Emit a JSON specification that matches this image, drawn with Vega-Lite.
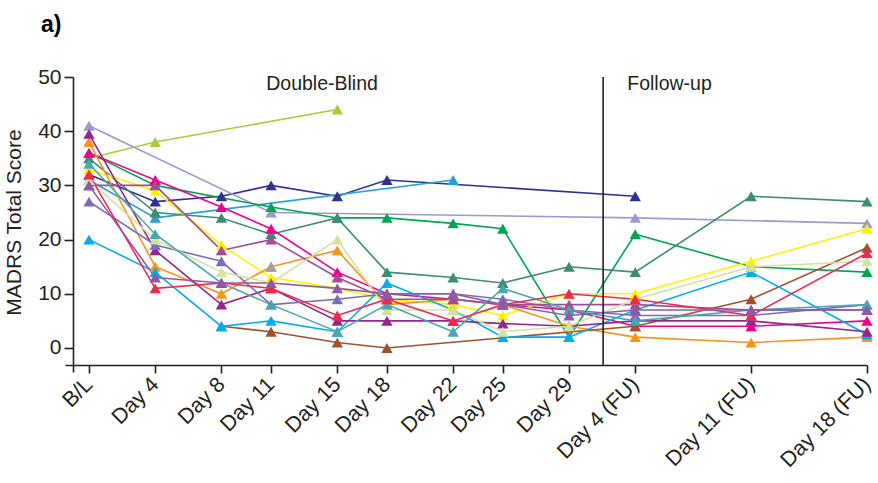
{
  "$schema": "https://vega.github.io/schema/vega-lite/v6.json",
  "autosize": {"type": "none"},
  "width": 802,
  "height": 295,
  "padding": {"left": 65, "top": 77, "right": 11, "bottom": 111},
  "background": "white",
  "title": {"text": "a)", "anchor": "start", "frame": "group", "dx": -24, "dy": 6, "offset": 35, "fontSize": 23, "fontWeight": "bold", "font": "Liberation Sans", "color": "#000000"},
  "config": {"view": {"stroke": null}, "font": "Liberation Sans"},
  "datasets": {
    "scores": [
      {"id": "A", "day": 0, "score": 35}, {"id": "A", "day": 4, "score": 38}, {"id": "A", "day": 15, "score": 44},
      {"id": "B", "day": 0, "score": 32}, {"id": "B", "day": 4, "score": 27}, {"id": "B", "day": 8, "score": 28}, {"id": "B", "day": 11, "score": 30}, {"id": "B", "day": 15, "score": 28}, {"id": "B", "day": 18, "score": 31}, {"id": "B", "day": 33, "score": 28},
      {"id": "C", "day": 0, "score": 31}, {"id": "C", "day": 4, "score": 24}, {"id": "C", "day": 22, "score": 31},
      {"id": "D", "day": 0, "score": 41}, {"id": "D", "day": 11, "score": 25}, {"id": "D", "day": 33, "score": 24}, {"id": "D", "day": 47, "score": 23},
      {"id": "E", "day": 0, "score": 36}, {"id": "E", "day": 4, "score": 30}, {"id": "E", "day": 11, "score": 26}, {"id": "E", "day": 15, "score": 24}, {"id": "E", "day": 18, "score": 24}, {"id": "E", "day": 22, "score": 23}, {"id": "E", "day": 25, "score": 22}, {"id": "E", "day": 29, "score": 2}, {"id": "E", "day": 33, "score": 21}, {"id": "E", "day": 40, "score": 15}, {"id": "E", "day": 47, "score": 14},
      {"id": "F", "day": 0, "score": 35}, {"id": "F", "day": 4, "score": 25}, {"id": "F", "day": 8, "score": 24}, {"id": "F", "day": 11, "score": 21}, {"id": "F", "day": 15, "score": 24}, {"id": "F", "day": 18, "score": 14}, {"id": "F", "day": 22, "score": 13}, {"id": "F", "day": 25, "score": 12}, {"id": "F", "day": 29, "score": 15}, {"id": "F", "day": 33, "score": 14}, {"id": "F", "day": 40, "score": 28}, {"id": "F", "day": 47, "score": 27},
      {"id": "G", "day": 0, "score": 36}, {"id": "G", "day": 4, "score": 31}, {"id": "G", "day": 8, "score": 26}, {"id": "G", "day": 11, "score": 22}, {"id": "G", "day": 15, "score": 14}, {"id": "G", "day": 18, "score": 10}, {"id": "G", "day": 22, "score": 9}, {"id": "G", "day": 25, "score": 8}, {"id": "G", "day": 29, "score": 7}, {"id": "G", "day": 33, "score": 4}, {"id": "G", "day": 40, "score": 4}, {"id": "G", "day": 47, "score": 5},
      {"id": "H", "day": 0, "score": 33}, {"id": "H", "day": 4, "score": 29}, {"id": "H", "day": 8, "score": 19}, {"id": "H", "day": 11, "score": 13}, {"id": "H", "day": 15, "score": 11}, {"id": "H", "day": 18, "score": 9}, {"id": "H", "day": 22, "score": 8}, {"id": "H", "day": 25, "score": 6}, {"id": "H", "day": 29, "score": 10}, {"id": "H", "day": 33, "score": 10}, {"id": "H", "day": 40, "score": 16}, {"id": "H", "day": 47, "score": 22},
      {"id": "I", "day": 0, "score": 38}, {"id": "I", "day": 4, "score": 15}, {"id": "I", "day": 8, "score": 10}, {"id": "I", "day": 11, "score": 15}, {"id": "I", "day": 15, "score": 18}, {"id": "I", "day": 18, "score": 8}, {"id": "I", "day": 22, "score": 9}, {"id": "I", "day": 25, "score": 8}, {"id": "I", "day": 29, "score": 4}, {"id": "I", "day": 33, "score": 2}, {"id": "I", "day": 40, "score": 1}, {"id": "I", "day": 47, "score": 2},
      {"id": "J", "day": 8, "score": 4}, {"id": "J", "day": 11, "score": 3}, {"id": "J", "day": 15, "score": 1}, {"id": "J", "day": 18, "score": 0}, {"id": "J", "day": 33, "score": 4}, {"id": "J", "day": 40, "score": 9}, {"id": "J", "day": 47, "score": 18.5},
      {"id": "K", "day": 0, "score": 20}, {"id": "K", "day": 4, "score": 14}, {"id": "K", "day": 8, "score": 4}, {"id": "K", "day": 11, "score": 5}, {"id": "K", "day": 15, "score": 3}, {"id": "K", "day": 18, "score": 12}, {"id": "K", "day": 22, "score": 7}, {"id": "K", "day": 25, "score": 2}, {"id": "K", "day": 29, "score": 2}, {"id": "K", "day": 33, "score": 7}, {"id": "K", "day": 40, "score": 14}, {"id": "K", "day": 47, "score": 2.5},
      {"id": "L", "day": 0, "score": 39.5}, {"id": "L", "day": 4, "score": 18}, {"id": "L", "day": 8, "score": 8}, {"id": "L", "day": 11, "score": 11}, {"id": "L", "day": 15, "score": 5}, {"id": "L", "day": 18, "score": 5}, {"id": "L", "day": 22, "score": 5}, {"id": "L", "day": 25, "score": 4.5}, {"id": "L", "day": 29, "score": 4}, {"id": "L", "day": 33, "score": 5}, {"id": "L", "day": 40, "score": 5}, {"id": "L", "day": 47, "score": 3},
      {"id": "M", "day": 0, "score": 27}, {"id": "M", "day": 4, "score": 19}, {"id": "M", "day": 8, "score": 16}, {"id": "M", "day": 11, "score": 8}, {"id": "M", "day": 15, "score": 9}, {"id": "M", "day": 18, "score": 10}, {"id": "M", "day": 22, "score": 10}, {"id": "M", "day": 25, "score": 9}, {"id": "M", "day": 29, "score": 7}, {"id": "M", "day": 33, "score": 6}, {"id": "M", "day": 40, "score": 6}, {"id": "M", "day": 47, "score": 8},
      {"id": "N", "day": 0, "score": 30}, {"id": "N", "day": 4, "score": 30}, {"id": "N", "day": 8, "score": 18}, {"id": "N", "day": 11, "score": 20}, {"id": "N", "day": 15, "score": 13}, {"id": "N", "day": 18, "score": 9}, {"id": "N", "day": 22, "score": 9}, {"id": "N", "day": 25, "score": 8}, {"id": "N", "day": 29, "score": 8}, {"id": "N", "day": 33, "score": 8}, {"id": "N", "day": 40, "score": 7}, {"id": "N", "day": 47, "score": 7},
      {"id": "O", "day": 0, "score": 31}, {"id": "O", "day": 4, "score": 20}, {"id": "O", "day": 8, "score": 14}, {"id": "O", "day": 11, "score": 12}, {"id": "O", "day": 15, "score": 20}, {"id": "O", "day": 18, "score": 7}, {"id": "O", "day": 22, "score": 7}, {"id": "O", "day": 25, "score": 3}, {"id": "O", "day": 29, "score": 4}, {"id": "O", "day": 33, "score": 9}, {"id": "O", "day": 40, "score": 15}, {"id": "O", "day": 47, "score": 16},
      {"id": "P", "day": 0, "score": 34}, {"id": "P", "day": 4, "score": 21}, {"id": "P", "day": 8, "score": 12}, {"id": "P", "day": 11, "score": 8}, {"id": "P", "day": 15, "score": 3}, {"id": "P", "day": 18, "score": 8}, {"id": "P", "day": 22, "score": 3}, {"id": "P", "day": 25, "score": 11}, {"id": "P", "day": 29, "score": 7}, {"id": "P", "day": 33, "score": 5}, {"id": "P", "day": 40, "score": 7}, {"id": "P", "day": 47, "score": 8},
      {"id": "Q", "day": 11, "score": 15},
      {"id": "R", "day": 0, "score": 32}, {"id": "R", "day": 4, "score": 11}, {"id": "R", "day": 8, "score": 12}, {"id": "R", "day": 11, "score": 11}, {"id": "R", "day": 15, "score": 6}, {"id": "R", "day": 18, "score": 9}, {"id": "R", "day": 22, "score": 5}, {"id": "R", "day": 25, "score": 8}, {"id": "R", "day": 29, "score": 10}, {"id": "R", "day": 33, "score": 9}, {"id": "R", "day": 40, "score": 6}, {"id": "R", "day": 47, "score": 17.5},
      {"id": "S", "day": 0, "score": 30}, {"id": "S", "day": 4, "score": 13}, {"id": "S", "day": 8, "score": 12}, {"id": "S", "day": 11, "score": 12}, {"id": "S", "day": 15, "score": 11}, {"id": "S", "day": 18, "score": 10}, {"id": "S", "day": 22, "score": 10}, {"id": "S", "day": 25, "score": 8}, {"id": "S", "day": 29, "score": 6}, {"id": "S", "day": 33, "score": 7}, {"id": "S", "day": 40, "score": 7}, {"id": "S", "day": 47, "score": 7}
    ],
    "phases": [
      {"label": "Double-Blind", "day": 14.08, "score": 48.7},
      {"label": "Follow-up", "day": 35.07, "score": 48.7}
    ],
    "divider": [{"day": 31.06, "top": 50, "bottom": -3.1}]
  },
  "layer": [
    {
      "data": {"name": "scores"},
      "mark": {"type": "line", "strokeWidth": 1.6, "clip": false},
      "encoding": {
        "x": {
          "field": "day", "type": "quantitative",
          "scale": {"domain": [-1.45, 47], "nice": false, "zero": false},
          "axis": {
            "values": [0, 4, 8, 11, 15, 18, 22, 25, 29, 33, 40, 47],
            "labelExpr": "{'0':'B/L','4':'Day 4','8':'Day 8','11':'Day 11','15':'Day 15','18':'Day 18','22':'Day 22','25':'Day 25','29':'Day 29','33':'Day 4 (FU)','40':'Day 11 (FU)','47':'Day 18 (FU)'}[datum.value]",
            "title": null, "grid": false, "offset": -7,
            "labelAngle": -45, "labelAlign": "right", "labelBaseline": "middle",
            "labelFontSize": 21.5, "labelColor": "#231f20", "labelPadding": 8, "labelFont": "Liberation Sans",
            "domainColor": "#231f20", "domainWidth": 1.6, "tickColor": "#231f20", "tickWidth": 1.6, "tickSize": 8,
            "labelOverlap": false, "labelBound": false, "labelFlush": false
          }
        },
        "y": {
          "field": "score", "type": "quantitative",
          "scale": {"domain": [-4.43, 50], "nice": false, "zero": false},
          "axis": {
            "values": [0, 10, 20, 30, 40, 50],
            "title": "MADRS Total Score", "titleFontSize": 21, "titleFontWeight": "normal", "titleColor": "#231f20", "titleFont": "Liberation Sans",
            "titleX": -59, "titleY": 145, "titleAngle": -90, "titleAlign": "center", "titleBaseline": "middle",
            "grid": false, "offset": -8, "labelFontSize": 21, "labelColor": "#231f20", "labelPadding": 3, "labelFont": "Liberation Sans",
            "domainColor": "#231f20", "domainWidth": 1.6, "tickColor": "#231f20", "tickWidth": 1.6, "tickSize": 9,
            "labelFlush": false, "labelOverlap": false
          }
        },
        "color": {
          "field": "id", "type": "nominal", "legend": null,
          "scale": {
            "domain": ["A", "B", "C", "D", "E", "F", "G", "H", "I", "J", "K", "L", "M", "N", "O", "P", "Q", "R", "S"],
            "range": ["#a6ce39", "#2e3192", "#2a9fd8", "#9d98cf", "#00a651", "#3d8c73", "#ec008c", "#fff200", "#f7941d", "#a0522d", "#00aeef", "#92278f", "#7d6db8", "#a24d92", "#d4e2a0", "#4aa7b2", "#a0a0a0", "#ee2a4f", "#8e5aa8"]
          }
        },
        "detail": {"field": "id"}
      }
    },
    {
      "data": {"name": "scores"},
      "mark": {"type": "point", "shape": "triangle-up", "filled": true, "opacity": 1, "size": 130, "clip": false},
      "encoding": {
        "x": {"field": "day", "type": "quantitative"},
        "y": {"field": "score", "type": "quantitative"},
        "color": {"field": "id", "type": "nominal", "legend": null}
      }
    },
    {
      "data": {"name": "divider"},
      "mark": {"type": "rule", "color": "#231f20", "strokeWidth": 1.6},
      "encoding": {
        "x": {"field": "day", "type": "quantitative"},
        "y": {"field": "top", "type": "quantitative"},
        "y2": {"field": "bottom"}
      }
    },
    {
      "data": {"name": "phases"},
      "mark": {"type": "text", "fontSize": 19.5, "color": "#231f20", "align": "center", "baseline": "middle", "font": "Liberation Sans"},
      "encoding": {
        "x": {"field": "day", "type": "quantitative"},
        "y": {"field": "score", "type": "quantitative"},
        "text": {"field": "label"}
      }
    }
  ]
}
